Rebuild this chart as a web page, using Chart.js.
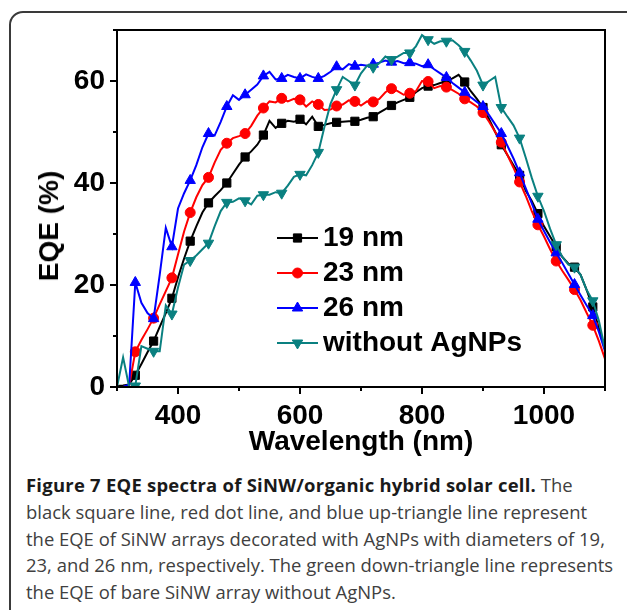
<!DOCTYPE html>
<html>
<head>
<meta charset="utf-8">
<script src="https://cdn.jsdelivr.net/npm/chart.js@4"></script>
<style>
  body { margin: 0; background: #fff; }
  #page { position: relative; width: 627px; height: 610px; overflow: hidden; background: #fff; }
  #frame { position: absolute; left: 9px; top: 11px; width: 700px; height: 700px;
           border: 2px solid #3a3a3a; border-radius: 14px; }
  #chart { position: absolute; left: 0; top: 0; }
  #ytitle { position: absolute; left: 49px; top: 226px; transform: translate(-50%, -50%) rotate(-90deg);
            font: bold 28px "Liberation Sans", Arial, sans-serif; white-space: nowrap; color: #000; }
  #caption { position: absolute; left: 26px; top: 472px; font-family: "Open Sans", sans-serif;
             font-size: 18.45px; line-height: 26.8px; color: #404040; }
  #caption div { white-space: nowrap; }
  #caption b { color: #1a1a1a; font-weight: 700; letter-spacing: 0.25px; }
</style>
</head>
<body>
<div id="page">
  <div id="frame"></div>
  <canvas id="chart" width="627" height="470"></canvas>
  <div id="ytitle">EQE (%)</div>
  <div id="caption">
    <div><b>Figure 7 EQE spectra of SiNW/organic hybrid solar cell.</b> The</div>
    <div>black square line, red dot line, and blue up-triangle line represent</div>
    <div>the EQE of SiNW arrays decorated with AgNPs with diameters of 19,</div>
    <div>23, and 26 nm, respectively. The green down-triangle line represents</div>
    <div>the EQE of bare SiNW array without AgNPs.</div>
  </div>
</div>
<script>
// longueurs d'onde (nm), un point tous les 10 nm, un marqueur tous les 30 nm
var wavelength = [300, 310, 320, 330, 340, 350, 360, 370, 380, 390,
    400, 410, 420, 430, 440, 450, 460, 470, 480, 490,
    500, 510, 520, 530, 540, 550, 560, 570, 580, 590,
    600, 610, 620, 630, 640, 650, 660, 670, 680, 690,
    700, 710, 720, 730, 740, 750, 760, 770, 780, 790,
    800, 810, 820, 830, 840, 850, 860, 870, 880, 890,
    900, 910, 920, 930, 940, 950, 960, 970, 980, 990,
    1000, 1010, 1020, 1030, 1040, 1050, 1060, 1070, 1080, 1090, 1100];

var eqe19 = [0.2, 0.3, 0.5, 2.3, 4.5, 6.8, 9.0, 11.8, 14.5, 17.4,
    21.5, 25.2, 28.6, 31.5, 34.2, 36.1, 37.4, 38.6, 40.0, 41.8,
    43.6, 45.1, 46.2, 47.5, 49.4, 52.2, 50.8, 51.7, 52.2, 52.0,
    52.5, 51.5, 53.0, 51.1, 51.4, 51.7, 51.9, 52.0, 52.1, 52.1,
    52.4, 52.8, 53.0, 53.8, 54.5, 55.2, 55.8, 56.3, 56.8, 57.8,
    58.6, 59.0, 59.2, 59.6, 60.0, 60.5, 61.2, 59.8, 58.0, 56.5,
    54.8, 52.5, 50.0, 47.5, 45.5, 43.5, 41.5, 38.5, 36.5, 34.0,
    31.5, 29.5, 27.5, 25.5, 24.2, 23.5, 22.0, 19.0, 15.7, 11.5, 7.4];

var eqe23 = [0, 0, 0.3, 6.9, 9.2, 11.3, 13.5, 16.2, 18.8, 21.4,
    26.0, 30.5, 34.2, 37.2, 39.6, 41.1, 44.0, 46.5, 47.8, 48.8,
    49.2, 49.7, 51.2, 53.2, 54.7, 56.0, 55.8, 56.6, 56.0, 56.5,
    56.3, 55.0, 56.0, 55.4, 54.3, 54.4, 55.1, 55.4, 56.2, 56.0,
    55.2, 56.0, 55.9, 56.5, 57.8, 58.5, 58.0, 57.3, 57.6, 58.0,
    60.0, 59.9, 58.6, 59.0, 58.8, 58.2, 57.5, 56.5, 55.8, 55.0,
    53.8, 52.0, 50.0, 48.0, 45.5, 43.0, 40.2, 37.5, 34.5, 31.8,
    29.5, 27.0, 24.7, 22.8, 21.0, 19.1, 17.0, 14.5, 12.1, 9.0, 5.5];

var eqe26 = [0, 0, 0.5, 20.5, 16.5, 14.5, 13.4, 22.0, 31.2, 27.5,
    35.0, 38.0, 40.5, 43.5, 47.0, 49.7, 49.3, 52.0, 55.0, 57.2,
    56.3, 57.3, 58.3, 59.3, 61.0, 61.8, 60.3, 60.5, 61.2, 60.8,
    60.5, 61.3, 60.8, 60.5, 61.0, 61.8, 62.8, 62.3, 63.3, 62.9,
    63.2, 63.0, 63.3, 63.6, 64.0, 63.7, 63.9, 63.5, 63.6, 63.4,
    62.9, 63.2, 62.3, 61.5, 60.7, 59.6, 58.7, 57.8, 56.8, 55.9,
    55.0, 53.3, 51.5, 49.7, 47.3, 44.8, 42.0, 39.0, 36.0, 32.9,
    30.6, 28.4, 26.3, 24.3, 22.2, 20.1, 18.0, 16.0, 14.0, 10.8, 7.0];

var eqeBare = [0, 5.8, 0, 0.2, 8.0, 7.5, 7.0, 7.0, 16.0, 14.3,
    19.5, 24.0, 24.8, 25.8, 27.0, 28.2, 31.5, 34.5, 36.2, 36.3,
    37.0, 36.5, 35.8, 37.5, 37.7, 37.7, 38.2, 38.0, 39.5, 41.2,
    41.7, 41.5, 43.5, 46.0, 51.0, 55.5, 58.3, 60.8, 60.0, 59.2,
    61.5, 63.0, 62.7, 63.5, 64.8, 64.2, 64.8, 65.5, 65.5, 66.8,
    69.0, 68.1, 67.3, 67.8, 67.8, 68.0, 67.0, 65.8, 64.0, 62.0,
    59.2, 60.0, 60.8, 54.8, 53.0, 51.3, 48.8, 45.0, 41.0, 37.4,
    34.5, 31.0, 27.9, 25.5, 24.0, 23.5, 22.0, 19.0, 16.9, 13.0, 7.4];

var seriesLabels = ['19 nm', '23 nm', '26 nm', 'without AgNPs'];
var xTicksLabel = [400, 600, 800, 1000];
var yTicksLabel = [0, 20, 40, 60];

var fontAxe = '"Liberation Sans", Arial, sans-serif';

function toPoints(values) {
    return values.map(function (v, i) { return { x: wavelength[i], y: v }; });
}

// un marqueur tous les 3 points (330, 360, ... 1080)
function markerRadius(r) {
    return function (ctx) {
        return (ctx.dataIndex > 0 && ctx.dataIndex % 3 === 0) ? r : 0;
    };
}

function makeDataset(label, values, color, style, radius, rotation, order) {
    return {
        label: label,
        data: toPoints(values),
        borderColor: color,
        backgroundColor: color,
        borderWidth: 2,
        pointStyle: style,
        pointRotation: rotation,
        pointRadius: markerRadius(radius),
        markerSize: radius,
        pointHoverRadius: 0,
        pointBorderWidth: 1,
        tension: 0,
        order: order
    };
}

// cadre + petites graduations vers l'extérieur
var frameTicks = {
    id: 'frameTicks',
    afterDraw: function (chart) {
        var ctx = chart.ctx;
        var a = chart.chartArea;
        var xs = chart.scales.x;
        var ys = chart.scales.y;
        ctx.save();
        ctx.strokeStyle = '#000';
        ctx.lineWidth = 2;
        ctx.strokeRect(a.left, a.top, a.right - a.left, a.bottom - a.top);
        ctx.beginPath();
        xs.ticks.forEach(function (t) {
            var px = xs.getPixelForValue(t.value);
            var len = xTicksLabel.indexOf(t.value) >= 0 ? 7 : 4;
            ctx.moveTo(px, a.bottom);
            ctx.lineTo(px, a.bottom + len);
        });
        ys.ticks.forEach(function (t) {
            var py = ys.getPixelForValue(t.value);
            var len = yTicksLabel.indexOf(t.value) >= 0 ? 7 : 4;
            ctx.moveTo(a.left, py);
            ctx.lineTo(a.left - len, py);
        });
        ctx.stroke();
        ctx.restore();
    }
};

// légende dans la zone du graphe
var innerLegend = {
    id: 'innerLegend',
    afterDraw: function (chart) {
        var ctx = chart.ctx;
        var x0 = 277, x1 = 318, xText = 323, y0 = 238, dy = 35;
        ctx.save();
        chart.data.datasets.forEach(function (ds, i) {
            var y = y0 + i * dy;
            ctx.strokeStyle = ds.borderColor;
            ctx.lineWidth = 2;
            ctx.beginPath();
            ctx.moveTo(x0, y);
            ctx.lineTo(x1, y);
            ctx.stroke();
            ctx.fillStyle = ds.backgroundColor;
            ctx.lineWidth = 1;
            Chart.helpers.drawPoint(ctx, {
                pointStyle: ds.pointStyle,
                rotation: ds.pointRotation,
                radius: ds.markerSize,
                borderWidth: 1
            }, (x0 + x1) / 2, y);
            ctx.fillStyle = '#000';
            ctx.font = 'bold 28px ' + fontAxe;
            ctx.textBaseline = 'middle';
            ctx.textAlign = 'left';
            ctx.fillText(ds.label, xText, y);
        });
        ctx.restore();
    }
};

var config = {
    type: 'line',
    data: {
        datasets: [
            makeDataset(seriesLabels[0], eqe19, '#000000', 'rect', 5.8, 0, 3),
            makeDataset(seriesLabels[1], eqe23, '#ff0000', 'circle', 5, 0, 2),
            makeDataset(seriesLabels[2], eqe26, '#0000ff', 'triangle', 6, 0, 1),
            makeDataset(seriesLabels[3], eqeBare, '#0a8080', 'triangle', 6, 180, 0)
        ]
    },
    options: {
        responsive: false,
        maintainAspectRatio: false,
        animation: false,
        layout: { padding: { top: 30, right: 22, left: 0, bottom: 0 } },
        plugins: {
            legend: { display: false },
            tooltip: { enabled: false }
        },
        scales: {
            x: {
                type: 'linear',
                min: 300,
                max: 1100,
                grid: { display: false, drawTicks: false },
                border: { display: false },
                ticks: {
                    stepSize: 100,
                    padding: 12,
                    maxRotation: 0,
                    autoSkip: false,
                    color: '#000',
                    font: { family: fontAxe, size: 28, weight: 'bold' },
                    callback: function (v) { return xTicksLabel.indexOf(v) >= 0 ? String(v) : ''; }
                },
                title: {
                    display: true,
                    text: 'Wavelength (nm)',
                    color: '#000',
                    font: { family: fontAxe, size: 28, weight: 'bold' },
                    padding: { top: 0, bottom: 11 }
                },
                afterFit: function (scale) { scale.height = 83; }
            },
            y: {
                min: 0,
                max: 70,
                grid: { display: false, drawTicks: false },
                border: { display: false },
                ticks: {
                    stepSize: 10,
                    padding: 12,
                    autoSkip: false,
                    color: '#000',
                    font: { family: fontAxe, size: 28, weight: 'bold' },
                    callback: function (v) { return yTicksLabel.indexOf(v) >= 0 ? String(v) : ''; }
                },
                afterFit: function (scale) { scale.width = 117; }
            }
        }
    },
    plugins: [frameTicks, innerLegend]
};

var ctx = document.getElementById('chart').getContext('2d');
var eqeChart = new Chart(ctx, config);
</script>
</body>
</html>
